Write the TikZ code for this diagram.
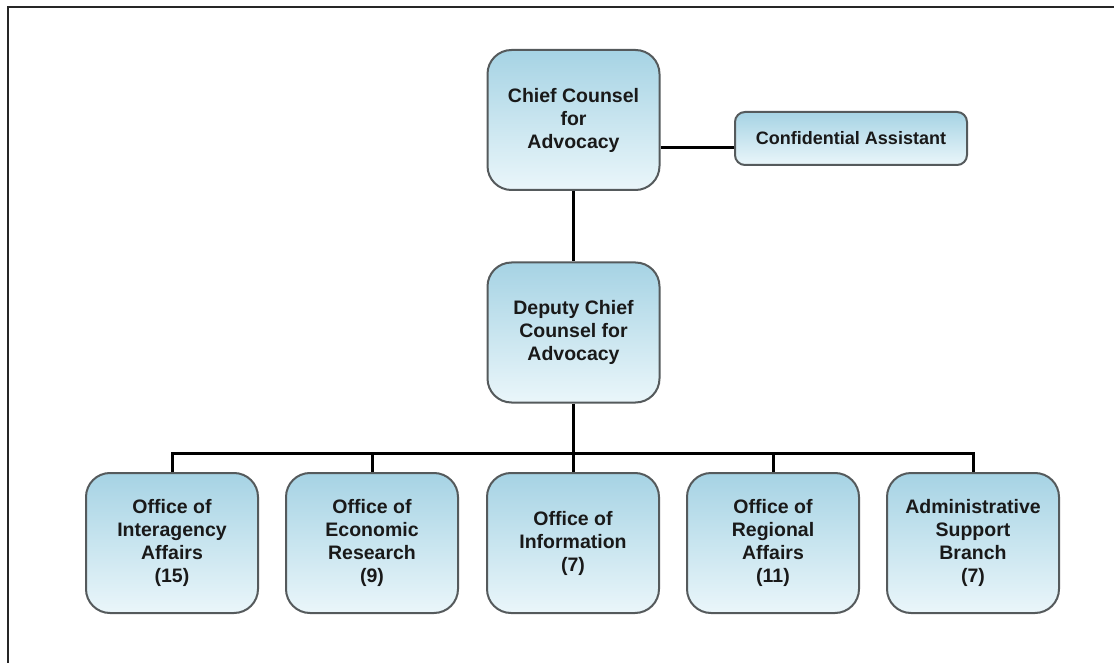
\documentclass[tikz,border=0pt]{standalone}
\usepackage{fontspec}
\setmainfont{Liberation Sans}
\definecolor{boxtop}{RGB}{166,211,228}
\definecolor{boxbot}{RGB}{234,246,250}
\definecolor{boxedge}{RGB}{85,90,92}
\definecolor{txt}{RGB}{25,25,25}
\begin{document}
\begin{tikzpicture}[x=1pt,y=-1pt,
  orgbox/.style={draw=boxedge, line width=2pt, rounded corners=24pt,
    top color=boxtop, bottom color=boxbot,
    minimum width=172pt, minimum height=140pt, inner sep=0pt,
    align=center, text=txt,
    font=\bfseries\fontsize{19.5}{23}\selectfont},
  smallbox/.style={orgbox, rounded corners=10pt, minimum width=232pt, minimum height=53pt,
    font=\bfseries\fontsize{18}{21}\selectfont},
  link/.style={draw=black, line width=3pt}]
\useasboundingbox (0,0) rectangle (1114,663);
\draw[black!85, line width=2pt] (8,663) -- (8,7) -- (1114,7);

\node[orgbox] (chief) at (573.5,120) {Chief Counsel\\for\\Advocacy};
\node[smallbox] (conf) at (851,138.5) {Confidential Assistant};
\node[orgbox] (dep) at (573.5,332.5) {Deputy Chief\\Counsel for\\Advocacy};

\node[orgbox] (o1) at (172,543) {Office of\\Interagency\\Affairs\\(15)};
\node[orgbox] (o2) at (372,543) {Office of\\Economic\\Research\\(9)};
\node[orgbox] (o3) at (573,543) {Office of\\Information\\(7)};
\node[orgbox] (o4) at (773,543) {Office of\\Regional\\Affairs\\(11)};
\node[orgbox] (o5) at (973,543) {Administrative\\Support\\Branch\\(7)};

\coordinate (bus) at (573.5,453);
\coordinate (cy) at (0,148);

\draw[link] (chief.east |- cy) -- (conf.west |- cy);
\draw[link] (chief.south) -- (dep.north);
\draw[link] (dep.south) -- (bus);
\draw[link] (o1.north) -- (o1.north |- bus) -- (o5.north |- bus) -- (o5.north);
\foreach \n in {o2,o3,o4} \draw[link] (\n.north |- bus) -- (\n.north);
\end{tikzpicture}
\end{document}
